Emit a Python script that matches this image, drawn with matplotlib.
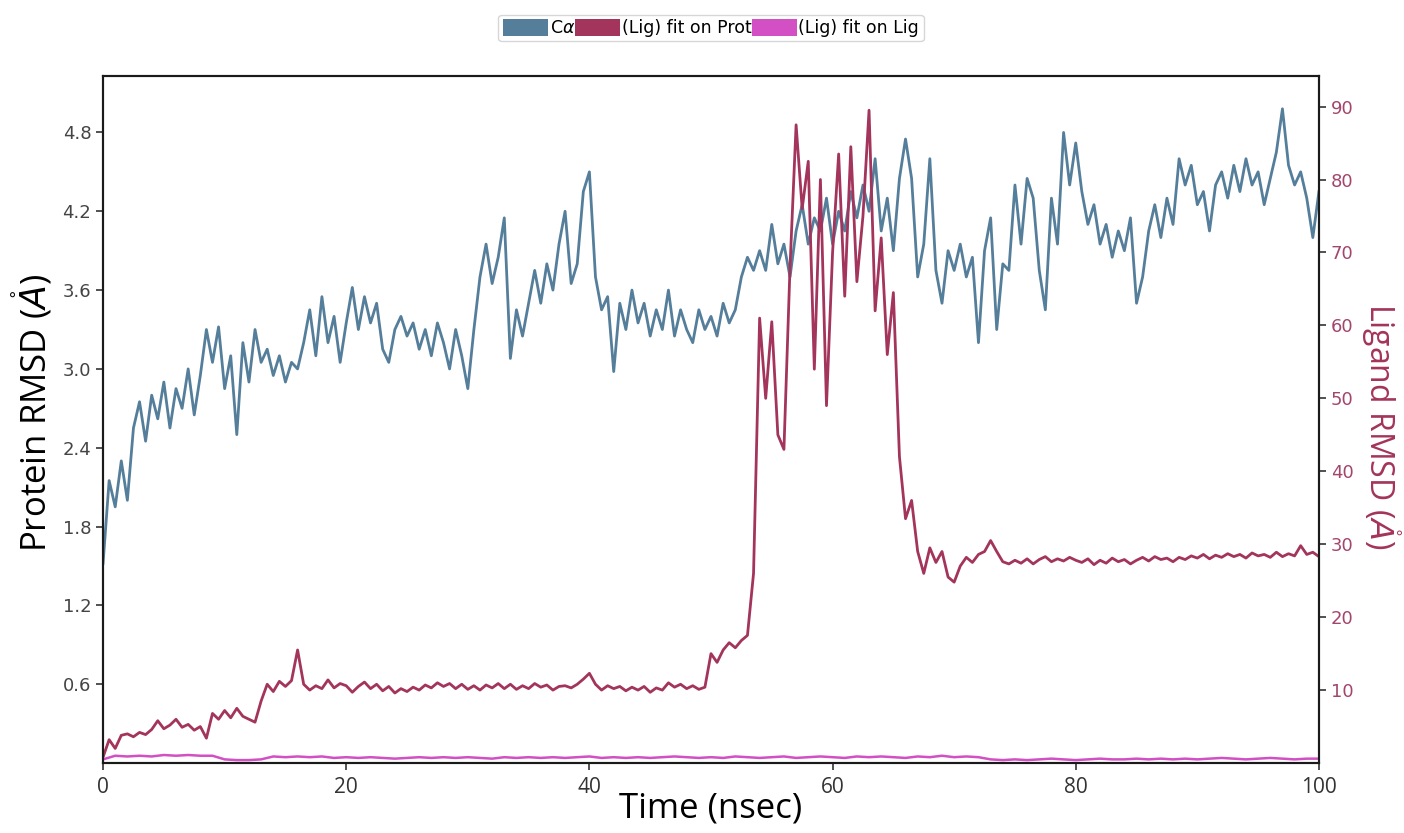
import numpy as np
import matplotlib
matplotlib.use("Agg")
import matplotlib.pyplot as plt
from matplotlib.patches import Patch

# ---------------- data ----------------
time_prot = np.arange(0, 100.01, 0.5)
protein_rmsd = [
    1.52, 2.15, 1.95, 2.30, 2.00, 2.55, 2.75, 2.45, 2.80, 2.62,
    2.90, 2.55, 2.85, 2.70, 3.00, 2.65, 2.95, 3.30, 3.05, 3.32,
    2.85, 3.10, 2.50, 3.20, 2.90, 3.30, 3.05, 3.15, 2.95, 3.10,
    2.90, 3.05, 3.00, 3.20, 3.45, 3.10, 3.55, 3.20, 3.40, 3.05,
    3.35, 3.62, 3.30, 3.55, 3.35, 3.50, 3.15, 3.05, 3.30, 3.40,
    3.25, 3.35, 3.15, 3.30, 3.10, 3.35, 3.20, 3.00, 3.30, 3.10,
    2.85, 3.30, 3.70, 3.95, 3.65, 3.85, 4.15, 3.08, 3.45, 3.25,
    3.50, 3.75, 3.50, 3.80, 3.60, 3.95, 4.20, 3.65, 3.80, 4.35,
    4.50, 3.70, 3.45, 3.55, 2.98, 3.50, 3.30, 3.60, 3.35, 3.50,
    3.25, 3.45, 3.30, 3.60, 3.25, 3.45, 3.30, 3.20, 3.45, 3.30,
    3.40, 3.25, 3.50, 3.35, 3.45, 3.70, 3.85, 3.75, 3.90, 3.75,
    4.10, 3.80, 3.95, 3.70, 4.05, 4.25, 3.95, 4.15, 4.05, 4.30,
    3.95, 4.20, 4.05, 4.35, 4.15, 4.40, 4.20, 4.60, 4.05, 4.30,
    3.90, 4.45, 4.75, 4.45, 3.70, 3.95, 4.60, 3.75, 3.50, 3.90,
    3.75, 3.95, 3.70, 3.85, 3.20, 3.90, 4.15, 3.30, 3.80, 3.75,
    4.40, 3.95, 4.45, 4.30, 3.75, 3.45, 4.30, 3.95, 4.80, 4.40,
    4.72, 4.35, 4.10, 4.25, 3.95, 4.10, 3.85, 4.05, 3.90, 4.15,
    3.50, 3.70, 4.05, 4.25, 4.00, 4.30, 4.10, 4.60, 4.40, 4.55,
    4.25, 4.35, 4.05, 4.40, 4.50, 4.30, 4.55, 4.35, 4.60, 4.40,
    4.50, 4.25, 4.45, 4.65, 4.98, 4.55, 4.40, 4.50, 4.30, 4.00,
    4.35,
]

time_lig = np.arange(0, 100.01, 0.5)
lig_fit_prot = [
    0.8, 3.2, 2.0, 3.8, 4.0, 3.6, 4.2, 3.9, 4.6, 5.8,
    4.7, 5.2, 6.0, 4.9, 5.3, 4.5, 5.0, 3.4, 6.8, 6.0,
    7.2, 6.2, 7.5, 6.4, 6.0, 5.6, 8.5, 10.8, 9.8, 11.2,
    10.5, 11.3, 15.5, 10.8, 10.0, 10.6, 10.2, 11.4, 10.3, 10.9,
    10.6, 9.7, 10.5, 11.1, 10.2, 10.8, 9.9, 10.5, 9.6, 10.2,
    9.8, 10.4, 10.0, 10.7, 10.3, 11.0, 10.5, 10.9, 10.2, 10.8,
    10.1, 10.6, 10.0, 10.7, 10.3, 10.9, 10.2, 10.8, 10.1, 10.6,
    10.2, 10.9, 10.4, 10.7, 10.0, 10.5, 10.6, 10.3, 10.8, 11.5,
    12.3, 10.8, 10.0, 10.6, 10.2, 10.5, 9.9, 10.4, 10.0, 10.5,
    9.7, 10.3, 10.0, 11.0, 10.4, 10.8, 10.2, 10.6, 10.1, 10.4,
    15.0, 13.8, 15.5, 16.5, 15.8, 16.8, 17.5, 26.0, 61.0, 50.0,
    60.5, 45.0, 43.0, 68.0, 87.5, 76.0, 82.5, 54.0, 80.0, 49.0,
    70.0, 83.5, 64.0, 84.5, 66.0, 75.0, 89.5, 62.0, 72.0, 56.0,
    64.5, 42.0, 33.5, 36.0, 29.0, 26.0, 29.5, 27.5, 29.0, 25.5,
    24.8, 27.0, 28.2, 27.5, 28.6, 29.0, 30.5, 29.0, 27.6, 27.3,
    27.8, 27.4, 28.0, 27.3, 27.9, 28.3, 27.6, 28.0, 27.7, 28.2,
    27.8, 27.5, 28.0, 27.2, 27.8, 27.4, 28.1, 27.6, 27.9, 27.3,
    27.8, 28.2, 27.7, 28.3, 27.9, 28.1, 27.6, 28.2, 27.9, 28.4,
    28.1, 28.6, 28.0, 28.5, 28.2, 28.7, 28.3, 28.6, 28.1, 28.8,
    28.4, 28.6, 28.2, 28.9, 28.3, 28.7, 28.4, 29.8, 28.6, 28.9,
    28.3,
]

time_lig2 = np.arange(0, 100.01, 1.0)
lig_fit_lig = [
    0.5, 1.0, 0.9, 1.0, 0.9, 1.1, 1.0, 1.1, 1.0, 1.0,
    0.5, 0.4, 0.4, 0.5, 0.9, 0.8, 0.9, 0.8, 0.9, 0.7,
    0.8, 0.7, 0.8, 0.7, 0.6, 0.7, 0.8, 0.7, 0.8, 0.7,
    0.8, 0.7, 0.6, 0.8, 0.7, 0.8, 0.7, 0.8, 0.7, 0.8,
    0.9, 0.7, 0.8, 0.7, 0.8, 0.7, 0.8, 0.9, 0.8, 0.7,
    0.8, 0.7, 0.9, 0.8, 0.7, 0.8, 0.9, 0.7, 0.8, 0.9,
    0.8, 0.7, 0.9, 0.8, 0.9, 0.8, 0.7, 0.9, 0.8, 1.0,
    0.8, 0.9, 0.8, 0.5, 0.4, 0.5, 0.4, 0.5, 0.6, 0.5,
    0.4, 0.5, 0.6, 0.5, 0.5, 0.6, 0.5, 0.6, 0.5, 0.6,
    0.5, 0.6, 0.7, 0.6, 0.5, 0.6, 0.7, 0.6, 0.5, 0.6,
    0.6,
]

left_ticks = [0.6, 1.2, 1.8, 2.4, 3.0, 3.6, 4.2, 4.8]
right_ticks = [10, 20, 30, 40, 50, 60, 70, 80, 90]
x_ticks = [0, 20, 40, 60, 80, 100]
legend_labels = [r"C$\alpha$", "(Lig) fit on Prot", "(Lig) fit on Lig"]

# ---------------- styling ----------------
c_prot = "#557e9b"
c_ligp = "#a3345b"
c_ligl = "#d24fc4"
c_right_tick = "#a2466c"
c_right_label = "#a3345b"

fig = plt.figure(figsize=(14.04, 8.33), dpi=100)
ax = fig.add_axes([0.0734, 0.084, 0.866, 0.8248])
ax2 = ax.twinx()

ax.plot(time_prot, protein_rmsd, color=c_prot, lw=2.0)
ax2.plot(time_lig, lig_fit_prot, color=c_ligp, lw=2.0)
ax2.plot(time_lig2, lig_fit_lig, color=c_ligl, lw=1.8)

ax.set_xlim(0, 100)
ax.set_ylim(0, 5.23)
ax2.set_ylim(0, 94.2)

ax.set_xticks(x_ticks)
ax.set_yticks(left_ticks)
ax.set_yticklabels([f"{v:.1f}" for v in left_ticks])
ax2.set_yticks(right_ticks)

for a in (ax, ax2):
    for s in a.spines.values():
        s.set_linewidth(1.5)
        s.set_color("#1a1a1a")

ax.tick_params(axis="y", labelsize=13, labelcolor="#444444", length=5,
               width=1.2, direction="out", color="#333333")
ax.tick_params(axis="x", labelsize=15, labelcolor="#333333", length=5,
               width=1.2, direction="out", color="#333333", pad=5)
for lab in ax.get_xticklabels():
    lab.set_family("Open Sans")
ax2.tick_params(axis="y", labelsize=13, labelcolor=c_right_tick, length=5,
                width=1.2, direction="out", color="#333333")

ax.set_xlabel("Time (nsec)", fontsize=25, family="Open Sans")
ax.set_ylabel(r"Protein RMSD ($\mathring{A}$)", fontsize=25,
              family="Open Sans")
ax2.set_ylabel(r"Ligand RMSD ($\mathring{A}$)", fontsize=23,
               family="Open Sans", color=c_right_label, rotation=270)

for lbl in (ax.xaxis.label, ax.yaxis.label, ax2.yaxis.label):
    lbl.set_ha("center")
    lbl.set_va("center")
    lbl.set_rotation_mode("default")
ax.xaxis.set_label_coords(0.5, -0.066)
ax.yaxis.set_label_coords(-0.058, 0.51)
ax2.yaxis.set_label_coords(1.051, 0.49)

handles = [Patch(facecolor=c_prot, edgecolor="none"),
           Patch(facecolor=c_ligp, edgecolor="none"),
           Patch(facecolor=c_ligl, edgecolor="none")]
fig.legend(handles, legend_labels, loc="center", ncol=3,
           bbox_to_anchor=(711 / 1404, 1 - 28 / 833),
           handlelength=2.6, handleheight=1.1,
           handletextpad=0.1, columnspacing=0.0, borderpad=0.25,
           frameon=True, fancybox=True, edgecolor="#cccccc",
           prop={"family": "DejaVu Sans", "size": 12.5})

fig.savefig("out.png", dpi=100)
